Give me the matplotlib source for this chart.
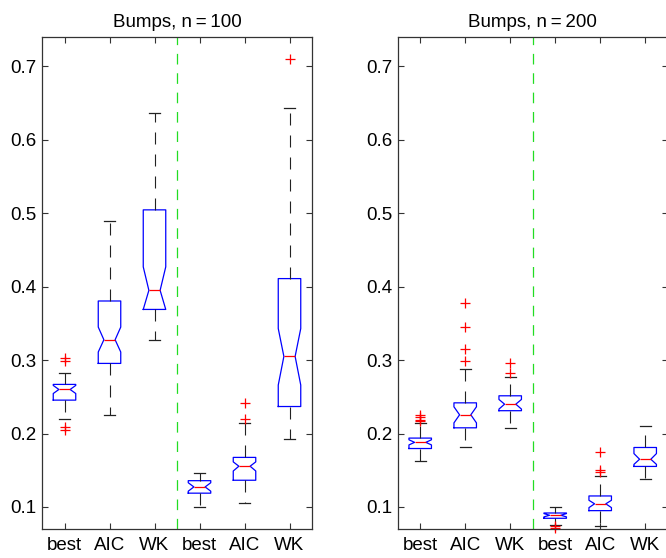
import matplotlib
matplotlib.use("Agg")
import matplotlib.pyplot as plt

plt.rcParams["font.family"] = ["Liberation Sans", "DejaVu Sans"]

# Categories / labels
tick_labels = ["best", "AIC", "WK", "best", "AIC", "WK"]
titles = ["Bumps, n\u2009=\u2009100", "Bumps, n\u2009=\u2009200"]

# ---- n = 100 ----
med_100 = [0.260, 0.3277, 0.395, 0.1273, 0.1555, 0.305]
q1_100 = [0.2455, 0.2955, 0.369, 0.1188, 0.1364, 0.2368]
q3_100 = [0.2669, 0.3805, 0.5046, 0.1358, 0.1675, 0.411]
lo_100 = [0.2195, 0.2258, 0.328, 0.100, 0.106, 0.192]
hi_100 = [0.2830, 0.490, 0.637, 0.1469, 0.2137, 0.6428]
cilo_100 = [0.2545, 0.311, 0.369, 0.1215, 0.149, 0.266]
cihi_100 = [0.2655, 0.345, 0.427, 0.1330, 0.1614, 0.343]
fl_100 = [[0.3025, 0.2992, 0.2088, 0.2050], [], [], [], [0.2420, 0.2203], [0.710]]

# ---- n = 200 ----
med_200 = [0.188, 0.2255, 0.2400, 0.0887, 0.1043, 0.1650]
q1_200 = [0.1796, 0.2078, 0.2311, 0.0846, 0.0950, 0.1552]
q3_200 = [0.1938, 0.2418, 0.2514, 0.0918, 0.1150, 0.1810]
lo_200 = [0.1627, 0.1816, 0.2081, 0.0755, 0.0745, 0.1387]
hi_200 = [0.2137, 0.2874, 0.2773, 0.1000, 0.1423, 0.2100]
cilo_200 = [0.1845, 0.2145, 0.2333, 0.0865, 0.0991, 0.1580]
cihi_200 = [0.1915, 0.2364, 0.2464, 0.0910, 0.1091, 0.1727]
fl_200 = [[0.2165, 0.2190, 0.2220, 0.2250],
          [0.3774, 0.3447, 0.3150, 0.2990],
          [0.2956, 0.2828],
          [0.0740, 0.0714],
          [0.1750, 0.1510, 0.1478],
          []]

panels = [
    (med_100, q1_100, q3_100, lo_100, hi_100, cilo_100, cihi_100, fl_100),
    (med_200, q1_200, q3_200, lo_200, hi_200, cilo_200, cihi_200, fl_200),
]

fig = plt.figure(figsize=(6.66, 5.58), dpi=100)
lefts = [42 / 666, 397.7 / 666]

for i, (med, q1, q3, lo, hi, cilo, cihi, fl) in enumerate(panels):
    ax = fig.add_axes([lefts[i], 29 / 558, 270 / 666, 492 / 558])
    stats = []
    for k in range(6):
        stats.append({
            "med": med[k], "q1": q1[k], "q3": q3[k],
            "whislo": lo[k], "whishi": hi[k],
            "cilo": cilo[k], "cihi": cihi[k],
            "fliers": fl[k],
        })
    ax.bxp(
        stats, positions=range(1, 7), widths=0.5, shownotches=True,
        boxprops=dict(color="blue", linewidth=0.9),
        medianprops=dict(color="red", linewidth=0.9),
        whiskerprops=dict(color="#222222", linewidth=0.8, linestyle=(0, (10.8, 9))),
        capprops=dict(color="#222222", linewidth=0.9),
        flierprops=dict(marker="+", markeredgecolor="red", markersize=7,
                        markeredgewidth=0.9, linestyle="none"),
    )
    # outlier markers are not clipped at the axes edge
    for ln in ax.lines:
        if ln.get_marker() == "+":
            ln.set_clip_on(False)

    ax.axvline(3.5, color="#22dd22", linewidth=0.9, linestyle=(0, (8.5, 7)))

    ax.set_xlim(0.5, 6.5)
    ax.set_ylim(0.07, 0.74)
    ax.set_xticks(range(1, 7))
    ax.set_xticklabels(tick_labels)
    ax.set_yticks([0.1, 0.2, 0.3, 0.4, 0.5, 0.6, 0.7])
    ax.set_yticklabels(["0.1", "0.2", "0.3", "0.4", "0.5", "0.6", "0.7"])
    ax.tick_params(direction="in", top=True, right=True, length=4,
                   width=0.8, labelsize=13.5, color="#333333")
    ax.tick_params(axis="x", pad=6)
    ax.tick_params(axis="y", pad=4)
    for sp in ax.spines.values():
        sp.set_linewidth(0.9)
        sp.set_color("#333333")
    ax.set_title(titles[i], fontsize=13.5, pad=7)

fig.savefig("out.png", dpi=100)
plt.close(fig)
